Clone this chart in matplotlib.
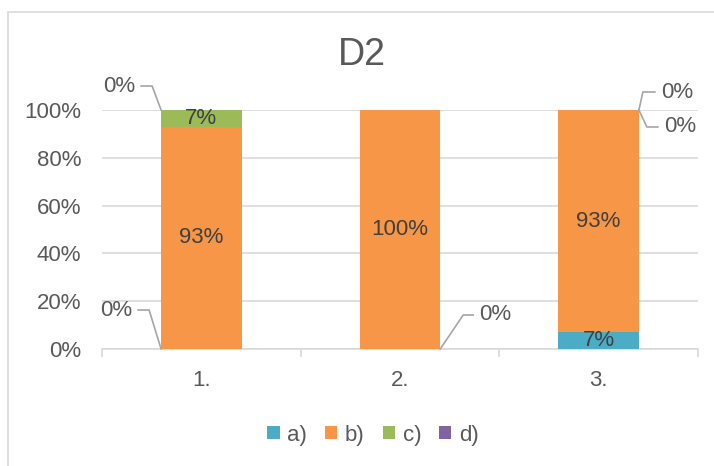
import matplotlib.pyplot as plt
from matplotlib.patches import Rectangle
from matplotlib.ticker import PercentFormatter, FixedLocator
import numpy as np

plt.rcParams['font.family'] = ['Liberation Sans', 'DejaVu Sans']

categories = ["1.", "2.", "3."]
series_names = ["a)", "b)", "c)", "d)"]
values_a = [0.00, 0.00, 0.07]
values_b = [0.93, 1.00, 0.93]
values_c = [0.07, 0.00, 0.00]
values_d = [0.00, 0.00, 0.00]
colors = ["#4BACC6", "#F79646", "#9BBB59", "#8064A2"]

TEXT = "#595959"
GRID = "#D9D9D9"
LEADER = "#A6A6A6"
FS = 16

fig = plt.figure(figsize=(7.14, 4.66), dpi=100)
# chart area outline
fig.patches.append(Rectangle((8 / 714, -0.1), 1.2, 1 - 12 / 466 + 0.1,
                             transform=fig.transFigure, fill=False,
                             edgecolor=GRID, linewidth=1.2))

ax = fig.add_axes([102 / 714, 1 - 349 / 466, 596 / 714, 239 / 466])

x = np.arange(len(categories))
width = 0.405
series = [values_a, values_b, values_c, values_d]
bottom = np.zeros(len(categories))
bars = []
for name, vals, col in zip(series_names, series, colors):
    vals = np.array(vals)
    ax.bar(x, vals, width, bottom=bottom, color=col, label=name, zorder=3)
    bars.append((vals, bottom.copy()))
    bottom = bottom + vals

ax.set_xlim(-0.5, len(categories) - 0.5)
ax.set_ylim(0, 1.0)
ax.yaxis.set_major_locator(FixedLocator(np.arange(0, 1.01, 0.2)))
ax.yaxis.set_major_formatter(PercentFormatter(1.0, decimals=0))
ax.grid(axis='y', color=GRID, linewidth=1.2, zorder=0)
ax.set_xticks(x)
ax.set_xticklabels(categories)
ax.set_xticks(np.arange(-0.5, len(categories), 1.0), minor=True)
ax.tick_params(axis='x', which='major', length=0, pad=15, labelsize=FS, labelcolor=TEXT)
ax.tick_params(axis='x', which='minor', length=6, color=GRID, width=1.2)
ax.tick_params(axis='y', length=0, pad=15, labelsize=FS, labelcolor=TEXT)
for s in ["top", "right", "left"]:
    ax.spines[s].set_visible(False)
ax.spines["bottom"].set_color(GRID)
ax.spines["bottom"].set_linewidth(1.2)

fig.text(362 / 714, 1 - 55 / 466, "D2", fontsize=27, color=TEXT,
         ha='center', va='center')

# labels inside non-zero segments
for vals, bot in bars:
    for i, v in enumerate(vals):
        if v > 0:
            ax.text(x[i], bot[i] + v / 2, f"{v:.0%}", ha='center', va='center',
                    fontsize=FS, color="#404040", zorder=5)


def callout(xa, ya, elbow, end, text, ha):
    # leader line in pixel offsets from the anchor, then the label
    px, py = ax.transData.transform((xa, ya))
    pts = [(px, py), (px + elbow[0], py + elbow[1]), (px + end[0], py + end[1])]
    data = ax.transData.inverted().transform(pts)
    ax.plot(data[:, 0], data[:, 1], color=LEADER, linewidth=1.2,
            clip_on=False, zorder=4)
    tx = px + end[0] + (-6 if ha == 'right' else 6)
    tpos = ax.transData.inverted().transform((tx, py + end[1]))
    ax.text(tpos[0], tpos[1], text, ha=ha, va='center', fontsize=FS,
            color=TEXT, clip_on=False)


half = width / 2
# category 1: a) at the bottom, d) at the top
callout(x[0] - half, bars[0][1][0], (-12, 39), (-23, 39),
        f"{values_a[0]:.0%}", 'right')
callout(x[0] - half, bars[3][1][0] + values_d[0], (-9, 24), (-20, 24),
        f"{values_d[0]:.0%}", 'right')
# category 2: a) at the bottom
callout(x[1] + half, bars[0][1][1], (23, 34), (33, 34),
        f"{values_a[1]:.0%}", 'left')
# category 3: c) and d) at the top
callout(x[2] + half, bars[3][1][2] + values_d[2], (4, 18), (16, 18),
        f"{values_d[2]:.0%}", 'left')
callout(x[2] + half, bars[2][1][2] + values_c[2], (8, -17), (19, -17),
        f"{values_c[2]:.0%}", 'left')

fig.legend(loc='center', bbox_to_anchor=(373 / 714, 1 - 435 / 466), ncol=4,
           frameon=False, fontsize=FS, labelcolor=TEXT, handlelength=0.55,
           handleheight=0.55, handletextpad=0.35, columnspacing=0.8)

fig.savefig("out.png", dpi=100)
